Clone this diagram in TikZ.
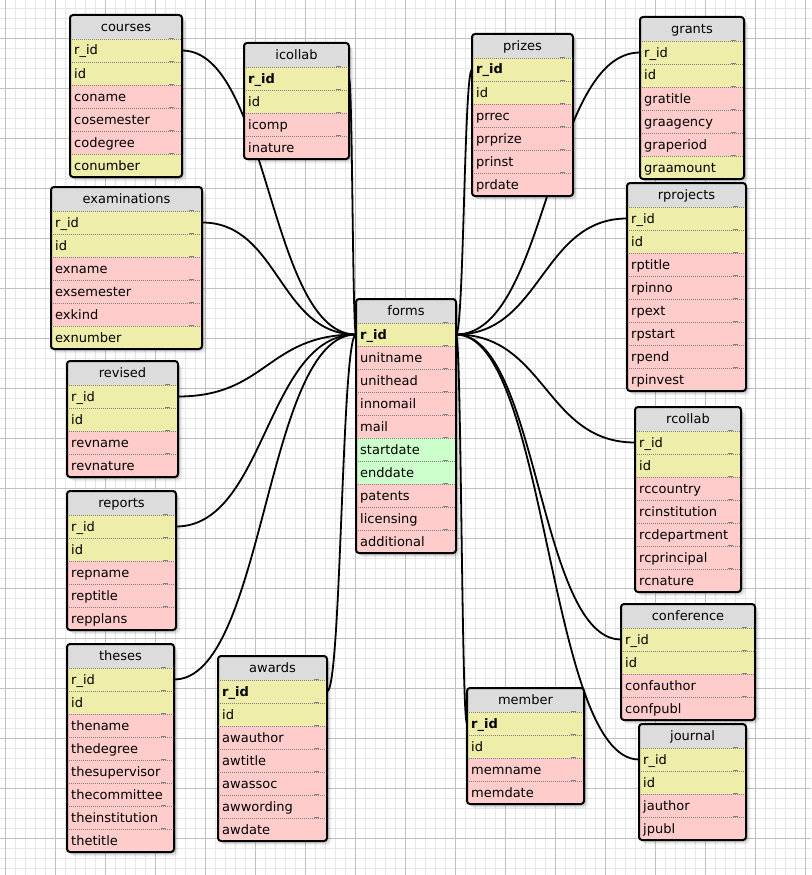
\documentclass[tikz,border=0pt]{standalone}
\usepackage{fontspec}
\setmainfont{DejaVu Sans}
\usetikzlibrary{calc}
\definecolor{tY}{HTML}{EEEEAA}
\definecolor{tP}{HTML}{FFCCCC}
\definecolor{tG}{HTML}{CCFFCC}
\definecolor{tH}{HTML}{DCDCDC}
\definecolor{gridminor}{HTML}{E6E6E6}
\definecolor{gridmajor}{HTML}{C0C0C0}
\definecolor{sepgray}{HTML}{808080}
\pgfdeclarelayer{bg}
\pgfdeclarelayer{edges}
\pgfsetlayers{bg,edges,main}
\tikzset{
  rowbox/.style={draw=none, inner sep=0pt, outer sep=0pt, minimum height=23pt, anchor=north west},
  hdrbox/.style={draw=none, fill=tH, inner sep=0pt, outer sep=0pt, minimum height=24pt, anchor=north west},
  sepline/.style={sepgray, line width=0.9pt, dash pattern=on 1pt off 1pt},
  sepmark/.style={sepgray, line width=0.9pt},
  tblframe/.style={black, line width=2pt, rounded corners=3pt},
  conn/.style={black, line width=1.8pt},
  celltext/.style={anchor=base west, inner sep=0pt, font=\fontsize{13}{15}\selectfont},
  hdrtext/.style={anchor=base, inner sep=0pt, font=\fontsize{13}{15}\selectfont},
  gminor/.style={gridminor, line width=1pt},
  gmajor/.style={gridmajor, line width=1pt},
}
% name, x, y, width, nrows, rows
\newcommand\dbtable[6]{%
  \pgfmathsetmacro\tbh{24+23*#5}%
  \foreach \s/\o in {1/0.10,2/0.08,3/0.06,4/0.04,5/0.02}{%
    \fill[black, opacity=\o, rounded corners=4pt] (#2+\s-1,#3+\s) rectangle (#2+#4+\s,#3+\tbh+\s);}%
  \begin{scope}
    \clip[rounded corners=3pt] (#2,#3) rectangle (#2+#4,#3+\tbh);
    \node[hdrbox, minimum width=#4pt] (#1) at (#2,#3) {};
    \node[hdrtext] (#1-title) at (#2+#4/2,#3+16.5) {#1};
    \foreach[count=\i] \rc/\rt in {#6}{%
      \pgfmathsetmacro\ry{#3+24+23*(\i-1)}%
      \node[rowbox, fill=\rc, minimum width=#4pt] (#1-\i) at (#2,\ry) {};
      \node[celltext] (#1-\i-t) at (#2+4,\ry+16) {\rt};
      \draw[sepline] (#2,\ry) -- (#2+#4,\ry);
      \draw[sepmark] (#2+#4-13,\ry-1) -- (#2+#4-8,\ry-1);
    }
  \end{scope}
  \draw[tblframe] (#2,#3) rectangle (#2+#4,#3+\tbh);
}
\newcommand\conn[2]{%
  \coordinate (mid) at ($(#1)!0.5!(#2)$);
  \draw[conn] (#1) .. controls (mid |- #1) and (mid |- #2) .. (#2);
}
\begin{document}
\begin{tikzpicture}[x=1pt, y=-1pt]
\useasboundingbox (0,0) rectangle (811,875);
\begin{pgfonlayer}{bg}
  \fill[white] (0,0) rectangle (811,875);
  \foreach \k in {0,...,80} \draw[gminor] (5.5+10*\k,0) -- (5.5+10*\k,875);
  \foreach \k in {0,...,86} \draw[gminor] (0,8.5+10*\k) -- (811,8.5+10*\k);
  \foreach \k in {0,...,16} \draw[gmajor] (5.5+50*\k,0) -- (5.5+50*\k,875);
  \foreach \k in {0,...,16} \draw[gmajor] (0,38.5+50*\k) -- (811,38.5+50*\k);
\end{pgfonlayer}

\dbtable{courses}{70}{15}{112}{6}{tY/r\_id, tY/id, tP/coname, tP/cosemester, tP/codegree, tY/conumber}
\dbtable{icollab}{244}{43}{105}{4}{tY/\textbf{r\_id}, tY/id, tP/icomp, tP/inature}
\dbtable{prizes}{472}{34}{101}{6}{tY/\textbf{r\_id}, tY/id, tP/prrec, tP/prprize, tP/prinst, tP/prdate}
\dbtable{grants}{640}{17}{104}{6}{tY/r\_id, tY/id, tP/gratitle, tP/graagency, tP/graperiod, tY/graamount}
\dbtable{examinations}{51}{187}{151}{6}{tY/r\_id, tY/id, tP/exname, tP/exsemester, tP/exkind, tY/exnumber}
\dbtable{rprojects}{627}{183}{119}{8}{tY/r\_id, tY/id, tP/rptitle, tP/rpinno, tP/rpext, tP/rpstart, tP/rpend, tP/rpinvest}
\dbtable{forms}{356}{299}{100}{10}{tY/\textbf{r\_id}, tP/unitname, tP/unithead, tP/innomail, tP/mail, tG/startdate, tG/enddate, tP/patents, tP/licensing, tP/additional}
\dbtable{revised}{67}{361}{111}{4}{tY/r\_id, tY/id, tP/revname, tP/revnature}
\dbtable{rcollab}{635}{407}{106}{7}{tY/r\_id, tY/id, tP/rccountry, tP/rcinstitution, tP/rcdepartment, tP/rcprincipal, tP/rcnature}
\dbtable{reports}{67}{491}{109}{5}{tY/r\_id, tY/id, tP/repname, tP/reptitle, tP/repplans}
\dbtable{conference}{621}{604}{134}{4}{tY/r\_id, tY/id, tP/confauthor, tP/confpubl}
\dbtable{theses}{67}{644}{107}{8}{tY/r\_id, tY/id, tP/thename, tP/thedegree, tP/thesupervisor, tP/thecommittee, tP/theinstitution, tP/thetitle}
\dbtable{awards}{218}{656}{109}{7}{tY/\textbf{r\_id}, tY/id, tP/awauthor, tP/awtitle, tP/awassoc, tP/awwording, tP/awdate}
\dbtable{member}{467}{688}{117}{4}{tY/\textbf{r\_id}, tY/id, tP/memname, tP/memdate}
\dbtable{journal}{639}{724}{107}{4}{tY/r\_id, tY/id, tP/jauthor, tP/jpubl}

\begin{pgfonlayer}{edges}
  \conn{courses-1.east}{forms-1.west}
  \conn{icollab-1.east}{forms-1.west}
  \conn{examinations-1.east}{forms-1.west}
  \conn{revised-1.east}{forms-1.west}
  \conn{reports-1.east}{forms-1.west}
  \conn{theses-1.east}{forms-1.west}
  \conn{awards-1.east}{forms-1.west}
  \conn{prizes-1.west}{forms-1.east}
  \conn{grants-1.west}{forms-1.east}
  \conn{rprojects-1.west}{forms-1.east}
  \conn{rcollab-1.west}{forms-1.east}
  \conn{conference-1.west}{forms-1.east}
  \conn{member-1.west}{forms-1.east}
  \conn{journal-1.west}{forms-1.east}
\end{pgfonlayer}
\end{tikzpicture}
\end{document}
